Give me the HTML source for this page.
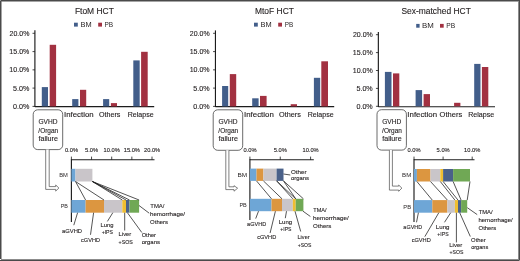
<!DOCTYPE html>
<html><head><meta charset="utf-8"><title>HCT causes of death</title>
<style>html,body{margin:0;padding:0;background:#fff;}body{width:520px;height:261px;overflow:hidden;}svg{display:block;}</style></head>
<body>
<svg width="520" height="261" viewBox="0 0 520 261" font-family="'Liberation Sans', Arial, sans-serif" fill="#231f20"><style>text{stroke:#231f20;stroke-width:0.12px;}text.t{stroke:none;}</style><rect x="0" y="0" width="520" height="261" fill="#fff"/><rect x="0" y="0" width="1" height="1" fill="#9a9a9a"/><rect x="1" y="0" width="518" height="1" fill="#4a4a4a"/><rect x="1" y="1" width="517" height="1" fill="#a4a4a4"/><rect x="0" y="1" width="1" height="258" fill="#4a4a4a"/><rect x="1" y="1" width="1" height="258" fill="#a4a4a4"/><rect x="1" y="1" width="1" height="1" fill="#808080"/><rect x="518" y="1" width="1" height="258" fill="#8c8c8c"/><rect x="519" y="0" width="1" height="260" fill="#4a4a4a"/><rect x="1" y="259" width="518" height="1" fill="#8c8c8c"/><rect x="0" y="260" width="519" height="1" fill="#4a4a4a"/><rect x="519" y="260" width="1" height="1" fill="#9a9a9a"/>
<text x="74.91" y="13.80" font-size="8.9" textLength="38.99" lengthAdjust="spacingAndGlyphs">FtoM HCT</text>
<rect x="74.00" y="22.70" width="3.80" height="3.90" fill="#425e8a"/>
<text class="t" x="80.49" y="26.60" font-size="6.6" textLength="11.12" lengthAdjust="spacingAndGlyphs">BM</text>
<rect x="98.20" y="22.70" width="3.80" height="3.90" fill="#a23141"/>
<text class="t" x="104.47" y="26.60" font-size="6.6" textLength="8.68" lengthAdjust="spacingAndGlyphs">PB</text>
<line x1="34.90" y1="30.30" x2="34.90" y2="107.00" stroke="#1c1c1c" stroke-width="1.15"/>
<line x1="32.50" y1="33.30" x2="34.90" y2="33.30" stroke="#1c1c1c" stroke-width="0.8"/>
<text x="9.55" y="35.80" font-size="6.9" textLength="19.80" lengthAdjust="spacingAndGlyphs">20.0%</text>
<line x1="32.50" y1="51.60" x2="34.90" y2="51.60" stroke="#1c1c1c" stroke-width="0.8"/>
<text x="9.36" y="54.10" font-size="6.9" textLength="19.99" lengthAdjust="spacingAndGlyphs">15.0%</text>
<line x1="32.50" y1="69.85" x2="34.90" y2="69.85" stroke="#1c1c1c" stroke-width="0.8"/>
<text x="9.36" y="72.35" font-size="6.9" textLength="19.99" lengthAdjust="spacingAndGlyphs">10.0%</text>
<line x1="32.50" y1="88.10" x2="34.90" y2="88.10" stroke="#1c1c1c" stroke-width="0.8"/>
<text x="13.01" y="90.60" font-size="6.9" textLength="16.34" lengthAdjust="spacingAndGlyphs">5.0%</text>
<line x1="32.50" y1="106.40" x2="34.90" y2="106.40" stroke="#1c1c1c" stroke-width="0.8"/>
<text x="13.02" y="108.90" font-size="6.9" textLength="16.34" lengthAdjust="spacingAndGlyphs">0.0%</text>
<line x1="34.90" y1="106.55" x2="154.20" y2="106.55" stroke="#1c1c1c" stroke-width="1.2"/>
<rect x="41.80" y="87.10" width="6.20" height="19.30" fill="#425e8a"/>
<rect x="49.70" y="44.80" width="6.40" height="61.60" fill="#a23141"/>
<rect x="72.20" y="99.10" width="6.20" height="7.30" fill="#425e8a"/>
<rect x="80.00" y="89.80" width="6.20" height="16.60" fill="#a23141"/>
<rect x="103.10" y="99.10" width="6.10" height="7.30" fill="#425e8a"/>
<rect x="110.90" y="103.10" width="6.10" height="3.30" fill="#a23141"/>
<rect x="133.30" y="60.40" width="6.40" height="46.00" fill="#425e8a"/>
<rect x="141.10" y="51.80" width="6.60" height="54.60" fill="#a23141"/>
<text x="64.08" y="116.80" font-size="6.6" textLength="29.53" lengthAdjust="spacingAndGlyphs">Infection</text>
<text x="99.06" y="116.80" font-size="6.6" textLength="21.40" lengthAdjust="spacingAndGlyphs">Others</text>
<text x="127.72" y="116.80" font-size="6.6" textLength="25.89" lengthAdjust="spacingAndGlyphs">Relapse</text>
<rect x="33.2" y="109.8" width="29.5" height="39.8" rx="4.5" ry="4.5" fill="#fff" stroke="#3a3a3a" stroke-width="0.75"/>
<text x="38.42" y="124.10" font-size="6.7" textLength="19.05" lengthAdjust="spacingAndGlyphs">GVHD</text>
<text x="38.35" y="132.60" font-size="6.7" textLength="19.82" lengthAdjust="spacingAndGlyphs">/Organ</text>
<text x="38.45" y="140.60" font-size="6.7" textLength="19.42" lengthAdjust="spacingAndGlyphs">failure</text>
<path d="M45.7,149.6 L45.7,189.4 L55.7,189.4 L55.7,191.1 L58.9,188.0 L55.7,185.0 L55.7,186.6 L49.2,186.6 L49.2,149.6" fill="#fff" stroke="#555" stroke-width="0.75" stroke-linejoin="miter"/>
<line x1="71.40" y1="159.80" x2="154.50" y2="159.80" stroke="#1c1c1c" stroke-width="1.1"/>
<line x1="71.40" y1="156.60" x2="71.40" y2="159.80" stroke="#1c1c1c" stroke-width="0.8"/>
<text x="64.92" y="151.70" font-size="6.2" textLength="13.13" lengthAdjust="spacingAndGlyphs">0.0%</text>
<line x1="91.55" y1="156.60" x2="91.55" y2="159.80" stroke="#1c1c1c" stroke-width="0.8"/>
<text x="85.07" y="151.70" font-size="6.2" textLength="13.14" lengthAdjust="spacingAndGlyphs">5.0%</text>
<line x1="111.70" y1="156.60" x2="111.70" y2="159.80" stroke="#1c1c1c" stroke-width="0.8"/>
<text x="103.56" y="151.70" font-size="6.2" textLength="16.24" lengthAdjust="spacingAndGlyphs">10.0%</text>
<line x1="131.85" y1="156.60" x2="131.85" y2="159.80" stroke="#1c1c1c" stroke-width="0.8"/>
<text x="123.71" y="151.70" font-size="6.2" textLength="16.24" lengthAdjust="spacingAndGlyphs">15.0%</text>
<line x1="152.00" y1="156.60" x2="152.00" y2="159.80" stroke="#1c1c1c" stroke-width="0.8"/>
<text x="144.01" y="151.70" font-size="6.2" textLength="16.09" lengthAdjust="spacingAndGlyphs">20.0%</text>
<line x1="71.40" y1="159.30" x2="71.40" y2="222.00" stroke="#1c1c1c" stroke-width="1.15"/>
<text class="t" x="59.13" y="177.00" font-size="5.9" textLength="8.65" lengthAdjust="spacingAndGlyphs">BM</text>
<text class="t" x="60.76" y="208.30" font-size="5.9" textLength="7.12" lengthAdjust="spacingAndGlyphs">PB</text>
<rect x="71.40" y="168.80" width="4.10" height="12.70" fill="#6ea6d6"/>
<rect x="75.50" y="168.80" width="16.90" height="12.70" fill="#c9c5c9"/>
<rect x="71.40" y="200.00" width="14.20" height="12.70" fill="#6ea6d6"/>
<rect x="85.60" y="200.00" width="18.40" height="12.70" fill="#dc9640"/>
<rect x="104.00" y="200.00" width="18.30" height="12.70" fill="#c9c5c9"/>
<rect x="122.30" y="200.00" width="3.70" height="12.70" fill="#efbe32"/>
<rect x="126.00" y="200.00" width="3.50" height="12.70" fill="#4a6189"/>
<rect x="129.50" y="200.00" width="9.60" height="12.70" fill="#70a855"/>
<line x1="75.50" y1="181.50" x2="85.60" y2="200.00" stroke="#1c1c1c" stroke-width="0.75"/>
<line x1="75.50" y1="181.50" x2="104.00" y2="200.00" stroke="#1c1c1c" stroke-width="0.75"/>
<line x1="92.40" y1="181.50" x2="122.30" y2="200.00" stroke="#1c1c1c" stroke-width="0.75"/>
<line x1="92.40" y1="181.50" x2="126.00" y2="200.00" stroke="#1c1c1c" stroke-width="0.75"/>
<line x1="92.40" y1="181.50" x2="129.50" y2="200.00" stroke="#1c1c1c" stroke-width="0.75"/>
<line x1="92.40" y1="181.50" x2="139.10" y2="200.00" stroke="#1c1c1c" stroke-width="0.75"/>
<line x1="77.60" y1="212.70" x2="73.80" y2="225.20" stroke="#1c1c1c" stroke-width="0.75"/>
<line x1="93.60" y1="212.70" x2="90.50" y2="234.80" stroke="#1c1c1c" stroke-width="0.75"/>
<line x1="112.80" y1="212.70" x2="107.40" y2="221.40" stroke="#1c1c1c" stroke-width="0.75"/>
<line x1="124.70" y1="212.70" x2="124.70" y2="230.50" stroke="#1c1c1c" stroke-width="0.75"/>
<line x1="127.40" y1="212.70" x2="141.80" y2="232.50" stroke="#1c1c1c" stroke-width="0.75"/>
<line x1="139.00" y1="205.50" x2="149.20" y2="213.20" stroke="#1c1c1c" stroke-width="0.75"/>
<text x="62.05" y="232.70" font-size="6.2" textLength="20.03" lengthAdjust="spacingAndGlyphs">aGVHD</text>
<text x="81.06" y="242.40" font-size="6.2" textLength="18.90" lengthAdjust="spacingAndGlyphs">cGVHD</text>
<text x="100.52" y="226.50" font-size="6.2" textLength="12.95" lengthAdjust="spacingAndGlyphs">Lung</text>
<text x="101.65" y="233.80" font-size="6.2" textLength="11.39" lengthAdjust="spacingAndGlyphs">+IPS</text>
<text x="118.62" y="236.40" font-size="6.2" textLength="12.68" lengthAdjust="spacingAndGlyphs">Liver</text>
<text x="118.54" y="243.80" font-size="6.2" textLength="14.30" lengthAdjust="spacingAndGlyphs">+SOS</text>
<text x="141.63" y="237.30" font-size="6.2" textLength="14.37" lengthAdjust="spacingAndGlyphs">Other</text>
<text x="141.65" y="243.80" font-size="6.2" textLength="18.37" lengthAdjust="spacingAndGlyphs">organs</text>
<text x="150.27" y="208.30" font-size="6.2" textLength="14.23" lengthAdjust="spacingAndGlyphs">TMA/</text>
<text x="149.97" y="216.40" font-size="6.2" textLength="35.13" lengthAdjust="spacingAndGlyphs">hemorrhage/</text>
<text x="150.12" y="223.70" font-size="6.2" textLength="17.90" lengthAdjust="spacingAndGlyphs">Others</text>
<text x="255.01" y="13.80" font-size="8.9" textLength="38.89" lengthAdjust="spacingAndGlyphs">MtoF HCT</text>
<rect x="254.00" y="22.70" width="3.80" height="3.90" fill="#425e8a"/>
<text class="t" x="260.49" y="26.60" font-size="6.6" textLength="11.12" lengthAdjust="spacingAndGlyphs">BM</text>
<rect x="278.20" y="22.70" width="3.80" height="3.90" fill="#a23141"/>
<text class="t" x="284.68" y="26.60" font-size="6.6" textLength="8.45" lengthAdjust="spacingAndGlyphs">PB</text>
<line x1="215.45" y1="30.40" x2="215.45" y2="107.00" stroke="#1c1c1c" stroke-width="1.15"/>
<line x1="213.05" y1="33.30" x2="215.45" y2="33.30" stroke="#1c1c1c" stroke-width="0.8"/>
<text x="189.85" y="35.80" font-size="6.9" textLength="19.80" lengthAdjust="spacingAndGlyphs">20.0%</text>
<line x1="213.05" y1="51.60" x2="215.45" y2="51.60" stroke="#1c1c1c" stroke-width="0.8"/>
<text x="189.66" y="54.10" font-size="6.9" textLength="19.99" lengthAdjust="spacingAndGlyphs">15.0%</text>
<line x1="213.05" y1="69.85" x2="215.45" y2="69.85" stroke="#1c1c1c" stroke-width="0.8"/>
<text x="189.66" y="72.35" font-size="6.9" textLength="19.99" lengthAdjust="spacingAndGlyphs">10.0%</text>
<line x1="213.05" y1="88.10" x2="215.45" y2="88.10" stroke="#1c1c1c" stroke-width="0.8"/>
<text x="193.31" y="90.60" font-size="6.9" textLength="16.34" lengthAdjust="spacingAndGlyphs">5.0%</text>
<line x1="213.05" y1="106.40" x2="215.45" y2="106.40" stroke="#1c1c1c" stroke-width="0.8"/>
<text x="193.32" y="108.90" font-size="6.9" textLength="16.34" lengthAdjust="spacingAndGlyphs">0.0%</text>
<line x1="215.45" y1="106.55" x2="334.20" y2="106.55" stroke="#1c1c1c" stroke-width="1.2"/>
<rect x="222.10" y="86.00" width="6.10" height="20.40" fill="#425e8a"/>
<rect x="229.80" y="74.10" width="6.40" height="32.30" fill="#a23141"/>
<rect x="252.20" y="98.30" width="6.40" height="8.10" fill="#425e8a"/>
<rect x="260.00" y="95.90" width="6.60" height="10.50" fill="#a23141"/>
<rect x="290.70" y="104.20" width="6.30" height="2.20" fill="#a23141"/>
<rect x="313.90" y="77.80" width="6.30" height="28.60" fill="#425e8a"/>
<rect x="321.30" y="61.30" width="6.70" height="45.10" fill="#a23141"/>
<text x="244.07" y="116.80" font-size="6.6" textLength="29.74" lengthAdjust="spacingAndGlyphs">Infection</text>
<text x="279.06" y="116.80" font-size="6.6" textLength="21.81" lengthAdjust="spacingAndGlyphs">Others</text>
<text x="307.72" y="116.80" font-size="6.6" textLength="25.89" lengthAdjust="spacingAndGlyphs">Relapse</text>
<rect x="213.2" y="109.8" width="29.5" height="40.500000000000014" rx="4.5" ry="4.5" fill="#fff" stroke="#3a3a3a" stroke-width="0.75"/>
<text x="218.42" y="124.10" font-size="6.7" textLength="19.05" lengthAdjust="spacingAndGlyphs">GVHD</text>
<text x="218.35" y="132.60" font-size="6.7" textLength="19.82" lengthAdjust="spacingAndGlyphs">/Organ</text>
<text x="218.45" y="140.60" font-size="6.7" textLength="19.42" lengthAdjust="spacingAndGlyphs">failure</text>
<path d="M225.8,150.3 L225.8,189.6 L234.0,189.6 L234.0,191.2 L237.6,188.2 L234.0,185.7 L234.0,186.8 L228.9,186.8 L228.9,150.3" fill="#fff" stroke="#555" stroke-width="0.75" stroke-linejoin="miter"/>
<line x1="249.90" y1="159.80" x2="313.80" y2="159.80" stroke="#1c1c1c" stroke-width="1.1"/>
<line x1="249.90" y1="156.60" x2="249.90" y2="159.80" stroke="#1c1c1c" stroke-width="0.8"/>
<text x="243.42" y="151.70" font-size="6.2" textLength="13.13" lengthAdjust="spacingAndGlyphs">0.0%</text>
<line x1="280.25" y1="156.60" x2="280.25" y2="159.80" stroke="#1c1c1c" stroke-width="0.8"/>
<text x="273.77" y="151.70" font-size="6.2" textLength="13.14" lengthAdjust="spacingAndGlyphs">5.0%</text>
<line x1="310.60" y1="156.60" x2="310.60" y2="159.80" stroke="#1c1c1c" stroke-width="0.8"/>
<text x="302.46" y="151.70" font-size="6.2" textLength="16.24" lengthAdjust="spacingAndGlyphs">10.0%</text>
<line x1="249.90" y1="159.30" x2="249.90" y2="219.90" stroke="#1c1c1c" stroke-width="1.15"/>
<text class="t" x="237.47" y="176.90" font-size="5.9" textLength="9.66" lengthAdjust="spacingAndGlyphs">BM</text>
<text class="t" x="239.45" y="207.00" font-size="5.9" textLength="7.34" lengthAdjust="spacingAndGlyphs">PB</text>
<rect x="249.90" y="168.60" width="6.60" height="12.30" fill="#6ea6d6"/>
<rect x="256.50" y="168.60" width="6.90" height="12.30" fill="#dc9640"/>
<rect x="263.40" y="168.60" width="13.20" height="12.30" fill="#c9c5c9"/>
<rect x="276.60" y="168.60" width="6.90" height="12.30" fill="#4a6189"/>
<rect x="249.90" y="198.80" width="21.60" height="12.40" fill="#6ea6d6"/>
<rect x="271.50" y="198.80" width="10.50" height="12.40" fill="#dc9640"/>
<rect x="282.00" y="198.80" width="10.80" height="12.40" fill="#c9c5c9"/>
<rect x="292.80" y="198.80" width="2.90" height="12.40" fill="#efbe32"/>
<rect x="295.70" y="198.80" width="7.70" height="12.40" fill="#70a855"/>
<line x1="256.50" y1="180.90" x2="271.50" y2="198.80" stroke="#1c1c1c" stroke-width="0.75"/>
<line x1="263.40" y1="180.90" x2="282.00" y2="198.80" stroke="#1c1c1c" stroke-width="0.75"/>
<line x1="276.60" y1="180.90" x2="292.80" y2="198.80" stroke="#1c1c1c" stroke-width="0.75"/>
<line x1="276.60" y1="180.90" x2="295.70" y2="198.80" stroke="#1c1c1c" stroke-width="0.75"/>
<line x1="283.50" y1="180.90" x2="295.70" y2="198.80" stroke="#1c1c1c" stroke-width="0.75"/>
<line x1="283.50" y1="180.90" x2="303.40" y2="198.80" stroke="#1c1c1c" stroke-width="0.75"/>
<line x1="283.50" y1="174.00" x2="290.30" y2="175.00" stroke="#1c1c1c" stroke-width="0.75"/>
<line x1="258.50" y1="211.20" x2="255.70" y2="218.60" stroke="#1c1c1c" stroke-width="0.75"/>
<line x1="275.40" y1="211.20" x2="270.10" y2="233.00" stroke="#1c1c1c" stroke-width="0.75"/>
<line x1="286.50" y1="211.20" x2="285.30" y2="218.20" stroke="#1c1c1c" stroke-width="0.75"/>
<line x1="295.00" y1="211.20" x2="300.70" y2="231.50" stroke="#1c1c1c" stroke-width="0.75"/>
<line x1="303.00" y1="211.20" x2="310.40" y2="216.50" stroke="#1c1c1c" stroke-width="0.75"/>
<text x="290.90" y="173.80" font-size="6.2" textLength="15.60" lengthAdjust="spacingAndGlyphs">Other</text>
<text x="290.95" y="180.40" font-size="6.2" textLength="17.96" lengthAdjust="spacingAndGlyphs">organs</text>
<text x="247.06" y="226.00" font-size="6.2" textLength="19.10" lengthAdjust="spacingAndGlyphs">aGVHD</text>
<text x="257.16" y="238.70" font-size="6.2" textLength="19.11" lengthAdjust="spacingAndGlyphs">cGVHD</text>
<text x="278.70" y="223.50" font-size="6.2" textLength="13.49" lengthAdjust="spacingAndGlyphs">Lung</text>
<text x="280.35" y="230.90" font-size="6.2" textLength="11.08" lengthAdjust="spacingAndGlyphs">+IPS</text>
<text x="297.54" y="238.90" font-size="6.2" textLength="12.05" lengthAdjust="spacingAndGlyphs">Liver</text>
<text x="297.75" y="246.70" font-size="6.2" textLength="13.58" lengthAdjust="spacingAndGlyphs">+SOS</text>
<text x="313.28" y="212.40" font-size="6.2" textLength="13.22" lengthAdjust="spacingAndGlyphs">TMA/</text>
<text x="312.96" y="220.20" font-size="6.2" textLength="35.74" lengthAdjust="spacingAndGlyphs">hemorrhage/</text>
<text x="313.11" y="227.80" font-size="6.2" textLength="18.31" lengthAdjust="spacingAndGlyphs">Others</text>
<text x="401.42" y="13.80" font-size="8.9" textLength="69.38" lengthAdjust="spacingAndGlyphs">Sex-matched HCT</text>
<rect x="416.20" y="23.90" width="3.40" height="3.80" fill="#425e8a"/>
<text class="t" x="421.96" y="27.70" font-size="6.6" textLength="11.79" lengthAdjust="spacingAndGlyphs">BM</text>
<rect x="440.00" y="23.90" width="3.70" height="3.80" fill="#a23141"/>
<text class="t" x="446.35" y="27.70" font-size="6.6" textLength="8.90" lengthAdjust="spacingAndGlyphs">PB</text>
<line x1="378.35" y1="32.00" x2="378.35" y2="106.90" stroke="#1c1c1c" stroke-width="1.15"/>
<line x1="375.95" y1="34.70" x2="378.35" y2="34.70" stroke="#1c1c1c" stroke-width="0.8"/>
<text x="352.95" y="37.20" font-size="6.9" textLength="19.80" lengthAdjust="spacingAndGlyphs">20.0%</text>
<line x1="375.95" y1="52.60" x2="378.35" y2="52.60" stroke="#1c1c1c" stroke-width="0.8"/>
<text x="352.76" y="55.10" font-size="6.9" textLength="19.99" lengthAdjust="spacingAndGlyphs">15.0%</text>
<line x1="375.95" y1="70.50" x2="378.35" y2="70.50" stroke="#1c1c1c" stroke-width="0.8"/>
<text x="352.76" y="73.00" font-size="6.9" textLength="19.99" lengthAdjust="spacingAndGlyphs">10.0%</text>
<line x1="375.95" y1="88.40" x2="378.35" y2="88.40" stroke="#1c1c1c" stroke-width="0.8"/>
<text x="356.41" y="90.90" font-size="6.9" textLength="16.34" lengthAdjust="spacingAndGlyphs">5.0%</text>
<line x1="375.95" y1="106.30" x2="378.35" y2="106.30" stroke="#1c1c1c" stroke-width="0.8"/>
<text x="356.42" y="108.80" font-size="6.9" textLength="16.34" lengthAdjust="spacingAndGlyphs">0.0%</text>
<line x1="378.35" y1="106.75" x2="495.00" y2="106.75" stroke="#1c1c1c" stroke-width="1.2"/>
<rect x="384.90" y="71.90" width="6.60" height="34.40" fill="#425e8a"/>
<rect x="393.00" y="73.40" width="6.30" height="32.90" fill="#a23141"/>
<rect x="415.60" y="90.10" width="6.50" height="16.20" fill="#425e8a"/>
<rect x="423.60" y="94.10" width="6.40" height="12.20" fill="#a23141"/>
<rect x="454.10" y="102.80" width="6.30" height="3.50" fill="#a23141"/>
<rect x="474.20" y="63.90" width="6.30" height="42.40" fill="#425e8a"/>
<rect x="481.90" y="67.00" width="6.40" height="39.30" fill="#a23141"/>
<text x="407.38" y="116.80" font-size="6.6" textLength="29.63" lengthAdjust="spacingAndGlyphs">Infection</text>
<text x="439.64" y="116.80" font-size="6.6" textLength="22.53" lengthAdjust="spacingAndGlyphs">Others</text>
<text x="468.22" y="116.80" font-size="6.6" textLength="25.89" lengthAdjust="spacingAndGlyphs">Relapse</text>
<rect x="377.0" y="109.7" width="29.399999999999977" height="40.39999999999999" rx="4.5" ry="4.5" fill="#fff" stroke="#3a3a3a" stroke-width="0.75"/>
<text x="382.17" y="124.10" font-size="6.7" textLength="19.05" lengthAdjust="spacingAndGlyphs">GVHD</text>
<text x="382.10" y="132.60" font-size="6.7" textLength="19.82" lengthAdjust="spacingAndGlyphs">/Organ</text>
<text x="382.20" y="140.60" font-size="6.7" textLength="19.42" lengthAdjust="spacingAndGlyphs">failure</text>
<path d="M389.4,150.1 L389.4,190.1 L398.7,190.1 L398.7,191.3 L401.9,188.1 L398.7,185.1 L398.7,186.1 L392.4,186.1 L392.4,150.1" fill="#fff" stroke="#555" stroke-width="0.75" stroke-linejoin="miter"/>
<line x1="414.00" y1="159.80" x2="474.50" y2="159.80" stroke="#1c1c1c" stroke-width="1.1"/>
<line x1="414.00" y1="156.60" x2="414.00" y2="159.80" stroke="#1c1c1c" stroke-width="0.8"/>
<text x="407.52" y="151.70" font-size="6.2" textLength="13.13" lengthAdjust="spacingAndGlyphs">0.0%</text>
<line x1="443.10" y1="156.60" x2="443.10" y2="159.80" stroke="#1c1c1c" stroke-width="0.8"/>
<text x="436.62" y="151.70" font-size="6.2" textLength="13.14" lengthAdjust="spacingAndGlyphs">5.0%</text>
<line x1="472.20" y1="156.60" x2="472.20" y2="159.80" stroke="#1c1c1c" stroke-width="0.8"/>
<text x="464.06" y="151.70" font-size="6.2" textLength="16.24" lengthAdjust="spacingAndGlyphs">10.0%</text>
<line x1="414.00" y1="159.30" x2="414.00" y2="222.00" stroke="#1c1c1c" stroke-width="1.15"/>
<text class="t" x="402.10" y="177.40" font-size="5.9" textLength="9.09" lengthAdjust="spacingAndGlyphs">BM</text>
<text class="t" x="403.32" y="208.60" font-size="5.9" textLength="7.79" lengthAdjust="spacingAndGlyphs">PB</text>
<rect x="414.00" y="169.00" width="2.90" height="12.50" fill="#6ea6d6"/>
<rect x="416.90" y="169.00" width="13.60" height="12.50" fill="#dc9640"/>
<rect x="430.50" y="169.00" width="9.80" height="12.50" fill="#c9c5c9"/>
<rect x="440.30" y="169.00" width="2.80" height="12.50" fill="#efbe32"/>
<rect x="443.10" y="169.00" width="10.00" height="12.50" fill="#4a6189"/>
<rect x="453.10" y="169.00" width="16.90" height="12.50" fill="#70a855"/>
<rect x="414.00" y="200.10" width="18.30" height="12.60" fill="#6ea6d6"/>
<rect x="432.30" y="200.10" width="15.10" height="12.60" fill="#dc9640"/>
<rect x="447.40" y="200.10" width="7.50" height="12.60" fill="#c9c5c9"/>
<rect x="454.90" y="200.10" width="3.10" height="12.60" fill="#efbe32"/>
<rect x="458.00" y="200.10" width="3.10" height="12.60" fill="#4a6189"/>
<rect x="461.10" y="200.10" width="6.10" height="12.60" fill="#70a855"/>
<line x1="416.90" y1="181.50" x2="432.30" y2="200.10" stroke="#1c1c1c" stroke-width="0.75"/>
<line x1="430.50" y1="181.50" x2="447.40" y2="200.10" stroke="#1c1c1c" stroke-width="0.75"/>
<line x1="440.30" y1="181.50" x2="454.90" y2="200.10" stroke="#1c1c1c" stroke-width="0.75"/>
<line x1="443.10" y1="181.50" x2="458.00" y2="200.10" stroke="#1c1c1c" stroke-width="0.75"/>
<line x1="453.10" y1="181.50" x2="461.10" y2="200.10" stroke="#1c1c1c" stroke-width="0.75"/>
<line x1="470.00" y1="181.50" x2="467.20" y2="200.10" stroke="#1c1c1c" stroke-width="0.75"/>
<line x1="418.40" y1="212.70" x2="416.50" y2="222.30" stroke="#1c1c1c" stroke-width="0.75"/>
<line x1="438.80" y1="212.70" x2="424.80" y2="236.70" stroke="#1c1c1c" stroke-width="0.75"/>
<line x1="450.70" y1="212.70" x2="444.50" y2="222.30" stroke="#1c1c1c" stroke-width="0.75"/>
<line x1="456.40" y1="212.70" x2="456.40" y2="242.40" stroke="#1c1c1c" stroke-width="0.75"/>
<line x1="459.70" y1="212.70" x2="470.30" y2="236.50" stroke="#1c1c1c" stroke-width="0.75"/>
<line x1="467.30" y1="207.70" x2="477.20" y2="214.60" stroke="#1c1c1c" stroke-width="0.75"/>
<text x="403.37" y="229.20" font-size="6.2" textLength="18.79" lengthAdjust="spacingAndGlyphs">aGVHD</text>
<text x="411.66" y="242.00" font-size="6.2" textLength="19.11" lengthAdjust="spacingAndGlyphs">cGVHD</text>
<text x="435.79" y="228.60" font-size="6.2" textLength="13.70" lengthAdjust="spacingAndGlyphs">Lung</text>
<text x="437.35" y="235.90" font-size="6.2" textLength="11.29" lengthAdjust="spacingAndGlyphs">+IPS</text>
<text x="449.20" y="246.70" font-size="6.2" textLength="13.10" lengthAdjust="spacingAndGlyphs">Liver</text>
<text x="449.45" y="253.70" font-size="6.2" textLength="13.89" lengthAdjust="spacingAndGlyphs">+SOS</text>
<text x="471.12" y="241.60" font-size="6.2" textLength="14.68" lengthAdjust="spacingAndGlyphs">Other</text>
<text x="471.17" y="248.60" font-size="6.2" textLength="17.04" lengthAdjust="spacingAndGlyphs">organs</text>
<text x="478.67" y="214.40" font-size="6.2" textLength="13.93" lengthAdjust="spacingAndGlyphs">TMA/</text>
<text x="478.38" y="222.00" font-size="6.2" textLength="34.32" lengthAdjust="spacingAndGlyphs">hemorrhage/</text>
<text x="478.52" y="229.80" font-size="6.2" textLength="17.80" lengthAdjust="spacingAndGlyphs">Others</text>
</svg>
</body></html>
